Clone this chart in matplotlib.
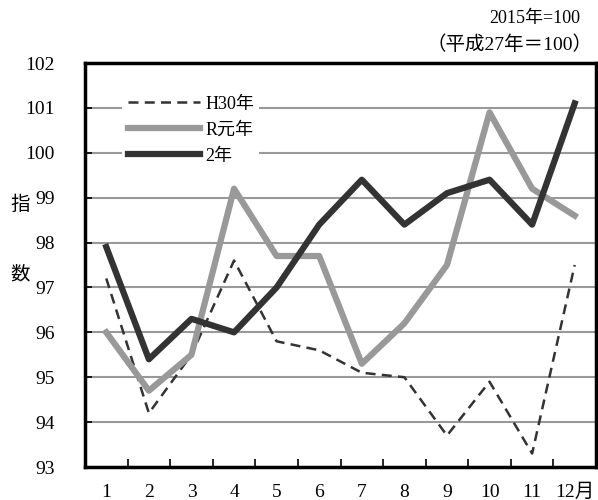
import numpy as np
import matplotlib.pyplot as plt

plt.rcParams['font.family'] = ['Liberation Serif', 'Noto Sans CJK JP']

months = list(range(1, 13))
month_labels = ['1', '2', '3', '4', '5', '6', '7', '8', '9', '10', '11', '12月']
h30 = [97.2, 94.2, 95.5, 97.6, 95.8, 95.6, 95.1, 95.0, 93.7, 94.9, 93.3, 97.5]
r1 = [96.0, 94.7, 95.5, 99.2, 97.7, 97.7, 95.3, 96.2, 97.5, 100.9, 99.2, 98.6]
r2 = [97.9, 95.4, 96.3, 96.0, 97.0, 98.4, 99.4, 98.4, 99.1, 99.4, 98.4, 101.1]

fig = plt.figure(figsize=(5.98, 5.0), dpi=100)
ax = fig.add_axes([85 / 598, 33 / 500, 511 / 598, 404 / 500])

ax.plot(months, h30, color='#333333', lw=1.8, linestyle=(0, (4, 2.5)), label='H30年', zorder=3)
ax.plot(months, r1, color='#999999', lw=4.5, label='R元年', zorder=4)
ax.plot(months, r2, color='#333333', lw=4.5, label='2年', zorder=5)

ax.set_xlim(0.5, 12.5)
ax.set_ylim(93, 102)
ax.set_yticks(np.arange(93, 103, 1))
ax.set_yticklabels([str(v) for v in range(93, 103)], fontsize=14)
ax.yaxis.grid(True, color='#999999', lw=1.5)
ax.set_axisbelow(True)

# month boundaries get tick marks, month centres get labels
ax.set_xticks(np.arange(1.5, 12.5, 1))
ax.set_xticklabels([])
ax.set_xticks(months, minor=True)
ax.set_xticklabels(month_labels, minor=True, fontsize=14)
ax.tick_params(axis='x', which='major', direction='in', length=6, width=1.2)
ax.tick_params(axis='x', which='minor', length=0, pad=12)
ax.tick_params(axis='y', direction='in', length=5, width=1.2, pad=22)

for s in ax.spines.values():
    s.set_linewidth(2.5)
    s.set_color('black')

leg = ax.legend(loc='upper left', bbox_to_anchor=(0.055, 0.955), fontsize=13,
                handlelength=4.0, handletextpad=0.3, labelspacing=0.5,
                borderpad=0.3, frameon=True, fancybox=False)
leg.get_frame().set_facecolor('white')
leg.get_frame().set_edgecolor('none')
leg.get_frame().set_alpha(1)

fig.text(20 / 598, 1 - 205 / 500, '指', fontsize=14, ha='center', va='center')
fig.text(20 / 598, 1 - 275 / 500, '数', fontsize=14, ha='center', va='center')
fig.text(580 / 598, 1 - 18 / 500, '2015年=100', fontsize=13, ha='right', va='center')
fig.text(592 / 598, 1 - 45 / 500, '（平成27年＝100）', fontsize=14, ha='right', va='center')

fig.savefig('out.png', dpi=100)
